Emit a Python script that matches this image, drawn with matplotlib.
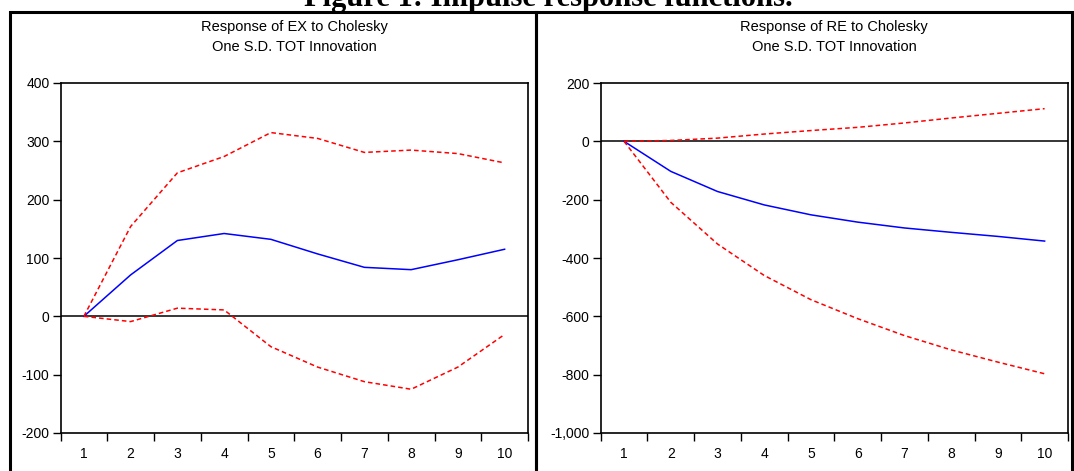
import matplotlib
matplotlib.use('Agg')
import matplotlib.pyplot as plt
from matplotlib.patches import Rectangle
import numpy as np

# impulse responses, periods 1..10
periods = np.arange(1, 11)

ex_resp = [0, 71, 130, 142, 132, 107, 84, 80, 97, 115]
ex_upper = [0, 154, 246, 274, 315, 305, 281, 285, 279, 263]
ex_lower = [0, -9, 14, 11, -52, -87, -112, -125, -87, -31]

re_resp = [0, -103, -172, -218, -252, -277, -297, -312, -326, -342]
re_upper = [0, 3, 11, 25, 37, 48, 63, 80, 96, 112]
re_lower = [0, -209, -352, -460, -543, -608, -666, -715, -757, -797]

W, H = 1074, 471
fig = plt.figure(figsize=(W / 100, H / 100), dpi=100)
plt.rcParams['font.family'] = ['Liberation Sans', 'DejaVu Sans']


def px_axes(x0, x1, ytop, ybot):
    return fig.add_axes([x0 / W, (H - ybot) / H, (x1 - x0) / W, (ybot - ytop) / H])


def style_panel(ax, resp, upper, lower, ylim, yticks, title1, title2):
    ax.plot(periods, resp, color='#0000ff', lw=1.1)
    ax.plot(periods, upper, color='#ff0000', lw=1.1, ls=(0, (3, 2)))
    ax.plot(periods, lower, color='#ff0000', lw=1.1, ls=(0, (3, 2)))
    ax.axhline(0, color='black', lw=1.1, zorder=0)
    ax.set_xlim(0.5, 10.5)
    ax.set_ylim(*ylim)
    ax.set_yticks(yticks)
    ax.set_yticklabels(['{:,}'.format(v) for v in yticks])
    ax.set_xticks(periods)
    ax.set_xticks(np.arange(0.5, 11, 1), minor=True)
    ax.tick_params(axis='x', which='major', length=0, pad=10, labelsize=10)
    ax.tick_params(axis='x', which='minor', length=6, width=1)
    ax.tick_params(axis='y', length=6, width=1, labelsize=10, pad=2)
    for s in ax.spines.values():
        s.set_linewidth(1.2)
    bb = ax.get_position()
    cx = bb.x0 + bb.width / 2
    fig.text(cx, 1 - 27.5 / H, title1, ha='center', va='center', fontsize=10.5)
    fig.text(cx, 1 - 47 / H, title2, ha='center', va='center', fontsize=10.5)


ax1 = px_axes(60.5, 528, 83, 433)
style_panel(ax1, ex_resp, ex_upper, ex_lower, (-200, 400),
            [-200, -100, 0, 100, 200, 300, 400],
            'Response of EX to Cholesky', 'One S.D. TOT Innovation')

ax2 = px_axes(600.7, 1068, 83, 433)
style_panel(ax2, re_resp, re_upper, re_lower, (-1000, 200),
            [-1000, -800, -600, -400, -200, 0, 200],
            'Response of RE to Cholesky', 'One S.D. TOT Innovation')

# panel frames
for x0, x1 in [(10, 536), (536, 1072)]:
    fig.add_artist(Rectangle((x0 / W, -0.05), (x1 - x0) / W, 1.05 - 12 / H,
                             transform=fig.transFigure, fill=False,
                             ec='black', lw=2.2))

# figure caption, cut off at the top edge as in the source
fig.text(548 / W, 1 - 6 / H, 'Figure 1: Impulse response functions.',
         ha='center', va='baseline', fontsize=22, fontweight='bold',
         family=['Liberation Serif', 'DejaVu Serif'])

fig.savefig('out.png', dpi=100)
